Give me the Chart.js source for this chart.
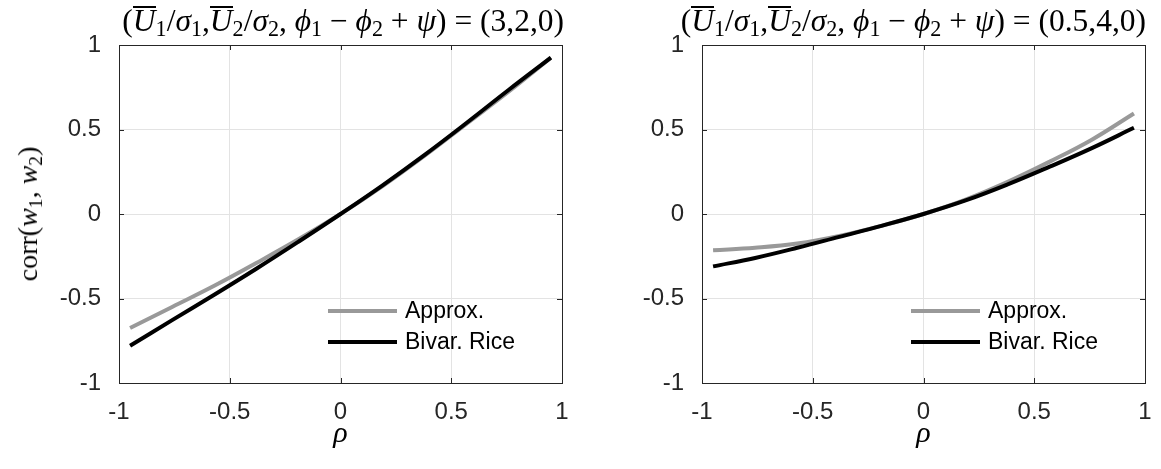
<!DOCTYPE html>
<html>
<head>
<meta charset="utf-8">
<script src="https://cdn.jsdelivr.net/npm/chart.js@4/dist/chart.umd.min.js"></script>
<style>
  body { margin: 0; background: #fff; width: 1161px; height: 469px; position: relative; overflow: hidden; }
  .box { position: absolute; top: 0; height: 469px; }
  .ttl { position: absolute; top: 3px; white-space: nowrap;
         font-family: 'Liberation Serif', serif; font-size: 31.5px; color: #000; line-height: 36px; }
  .ttl sub { font-size: 70%; vertical-align: -5px; line-height: 0; }
  .ov { display: inline-block; border-top: 2px solid #000; line-height: 25px; }
  .ylab { position: absolute; left: 28px; top: 214px; transform: translate(-50%, -50%) rotate(-90deg);
          white-space: nowrap; font-family: 'Liberation Serif', serif; font-size: 28px; color: #000; }
  .ylab sub { font-size: 70%; vertical-align: -5px; line-height: 0; }
</style>
</head>
<body>
<div class="box" style="left:0;width:580px"><canvas id="left"></canvas></div>
<div class="box" style="left:580px;width:581px"><canvas id="right"></canvas></div>

<div class="ttl" style="right:597px">(<i class="ov">U</i><sub>1</sub>/<i>σ</i><sub>1</sub>,<i class="ov">U</i><sub>2</sub>/<i>σ</i><sub>2</sub>, <i>ϕ</i><sub>1</sub> − <i>ϕ</i><sub>2</sub> + <i>ψ</i>) = (3,2,0)</div>
<div class="ttl" style="right:15px">(<i class="ov">U</i><sub>1</sub>/<i>σ</i><sub>1</sub>,<i class="ov">U</i><sub>2</sub>/<i>σ</i><sub>2</sub>, <i>ϕ</i><sub>1</sub> − <i>ϕ</i><sub>2</sub> + <i>ψ</i>) = (0.5,4,0)</div>
<div class="ylab">corr(<i>w</i><sub>1</sub>, <i>w</i><sub>2</sub>)</div>

<script>
// rho values (x) shared by both panels
const rho = [-0.95, -0.76, -0.57, -0.38, -0.19, 0, 0.19, 0.38, 0.57, 0.76, 0.95];

// left panel (3,2,0)
const approxLeft = [-0.675, -0.55, -0.425, -0.29, -0.15, 0, 0.165, 0.345, 0.535, 0.725, 0.925];
const riceLeft   = [-0.78, -0.628, -0.478, -0.324, -0.164, 0, 0.17, 0.35, 0.54, 0.735, 0.925];

// right panel (0.5,4,0)
const approxRight = [-0.215, -0.2, -0.175, -0.13, -0.07, 0, 0.085, 0.19, 0.31, 0.44, 0.595];
const riceRight   = [-0.31, -0.26, -0.2, -0.135, -0.07, 0, 0.08, 0.175, 0.28, 0.39, 0.51];

const tickVals = [-1, -0.5, 0, 0.5, 1];
const tickLabels = ['-1', '-0.5', '0', '0.5', '1'];
const legendLabels = ['Approx.', 'Bivar. Rice'];

const GREY = '#999999';
const AXIS = '#262626';

function pts(ys) {
  return rho.map(function(x, i) { return {x: x, y: ys[i]}; });
}

// box around the axes + inward ticks, matlab style
const boxPlugin = {
  id: 'box',
  afterDatasetsDraw(chart) {
    const {ctx, chartArea: a, scales} = chart;
    ctx.save();
    ctx.strokeStyle = AXIS;
    ctx.lineWidth = 1;
    ctx.beginPath();
    tickVals.forEach(function(v) {
      const px = Math.round(scales.x.getPixelForValue(v)) + 0.5;
      const py = Math.round(scales.y.getPixelForValue(v)) + 0.5;
      ctx.moveTo(px, a.bottom); ctx.lineTo(px, a.bottom - 5);
      ctx.moveTo(px, a.top); ctx.lineTo(px, a.top + 5);
      ctx.moveTo(a.left, py); ctx.lineTo(a.left + 5, py);
      ctx.moveTo(a.right, py); ctx.lineTo(a.right - 5, py);
    });
    ctx.stroke();
    ctx.strokeRect(Math.round(a.left) + 0.5, Math.round(a.top) + 0.5,
      Math.round(a.right - a.left), Math.round(a.bottom - a.top));
    ctx.restore();
  }
};

// legend in the lower right corner, no frame
const legendPlugin = {
  id: 'cornerLegend',
  afterDraw(chart) {
    const {ctx, chartArea: a} = chart;
    const cols = [GREY, '#000000'];
    const rows = [a.bottom - 72, a.bottom - 41];
    ctx.save();
    ctx.font = '23px "Liberation Sans", Arial, sans-serif';
    ctx.textBaseline = 'middle';
    ctx.fillStyle = '#000';
    rows.forEach(function(y, i) {
      ctx.strokeStyle = cols[i];
      ctx.lineWidth = 4;
      ctx.beginPath();
      ctx.moveTo(a.right - 234, y);
      ctx.lineTo(a.right - 165, y);
      ctx.stroke();
      ctx.fillText(legendLabels[i], a.right - 157, y + 1);
    });
    ctx.restore();
  }
};

function makeChart(id, approx, rice, yWidth, padRight) {
  const ctx = document.getElementById(id).getContext('2d');
  return new Chart(ctx, {
    type: 'line',
    data: {
      datasets: [
        {
          label: legendLabels[0],
          data: pts(approx),
          borderColor: GREY,
          borderWidth: 4,
          pointRadius: 0,
          tension: 0.4,
          order: 2
        },
        {
          label: legendLabels[1],
          data: pts(rice),
          borderColor: '#000000',
          borderWidth: 4,
          pointRadius: 0,
          tension: 0.4,
          order: 1
        }
      ]
    },
    options: {
      responsive: true,
      maintainAspectRatio: false,
      animation: false,
      layout: { padding: { left: 0, top: 45, right: padRight, bottom: 0 } },
      plugins: { legend: { display: false }, tooltip: { enabled: false } },
      scales: {
        x: {
          type: 'linear',
          min: -1, max: 1,
          afterBuildTicks: function(s) { s.ticks = tickVals.map(function(v) { return {value: v}; }); },
          afterFit: function(s) { s.height = 86; s.paddingLeft = 0; s.paddingRight = 0; },
          grid: { color: '#e3e3e3', drawTicks: false },
          border: { display: false },
          ticks: {
            padding: 15,
            color: AXIS,
            maxRotation: 0,
            font: { family: '"Liberation Sans", Arial, sans-serif', size: 24 },
            callback: function(v) { return tickLabels[tickVals.indexOf(v)]; }
          },
          title: {
            display: true,
            text: 'ρ',
            color: '#000',
            padding: { top: 0, bottom: 17 },
            font: { family: '"Liberation Serif", serif', size: 30, style: 'italic' }
          }
        },
        y: {
          min: -1, max: 1,
          afterBuildTicks: function(s) { s.ticks = tickVals.map(function(v) { return {value: v}; }); },
          afterFit: function(s) { s.width = yWidth; },
          grid: { color: '#e3e3e3', drawTicks: false },
          border: { display: false },
          ticks: {
            padding: 18,
            color: AXIS,
            font: { family: '"Liberation Sans", Arial, sans-serif', size: 24 },
            callback: function(v) { return tickLabels[tickVals.indexOf(v)]; }
          }
        }
      }
    },
    plugins: [boxPlugin, legendPlugin]
  });
}

makeChart('left', approxLeft, riceLeft, 119, 18);
makeChart('right', approxRight, riceRight, 122, 16);
</script>
</body>
</html>
